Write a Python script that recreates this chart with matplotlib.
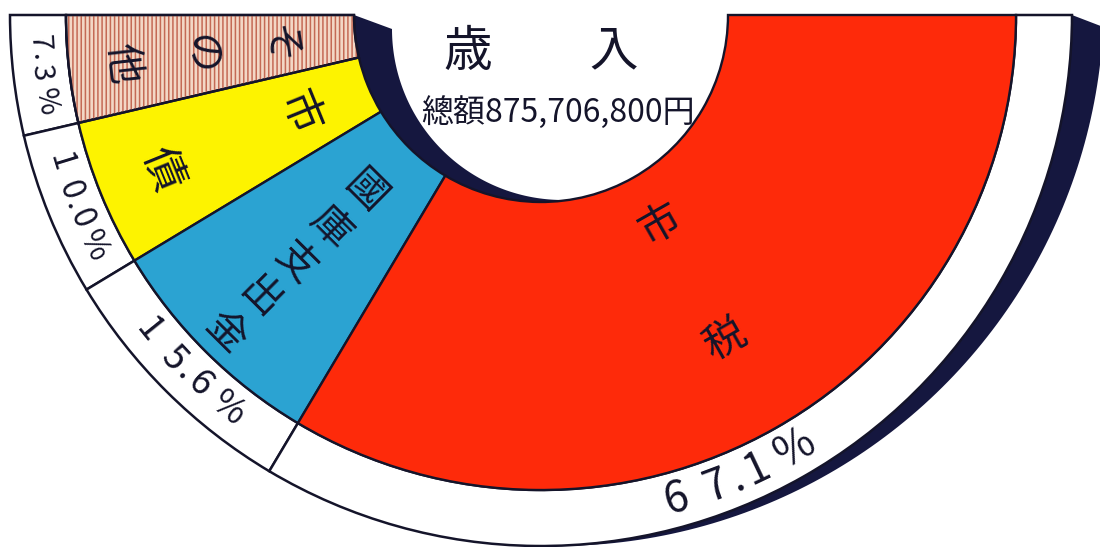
import numpy as np
import matplotlib
matplotlib.use('Agg')
import matplotlib.pyplot as plt
from matplotlib.patches import Wedge, Polygon

# data
categories = ['その他', '市債', '國庫支出金', '市税']
shares = [7.3, 10.0, 15.6, 67.1]
pct_labels = ['7.3%', '10.0%', '15.6%', '67.1%']
title_text = '歳　　入'
total_text = '總額875,706,800円'

colors = ['#f3d8c6', '#fdf300', '#2ba3d2', '#fe2a0a']
stripe_color = '#c46a55'
shadow_color = '#15173f'
ink = '#14142a'

# geometry in image pixels (y grows downwards)
CX, CY = 541, 15
R_IN, R_COL, R_OUT = 187, 475, 531

plt.rcParams['font.family'] = ['Noto Sans CJK JP', 'DejaVu Sans']
plt.rcParams['hatch.linewidth'] = 1.1

fig = plt.figure(figsize=(11, 5.47), dpi=100)
ax = fig.add_axes([0, 0, 1, 1])


def arc(cx, cy, r, a0, a1, n=200):
    t = np.radians(np.linspace(a0, a1, n))
    return np.column_stack([cx + r * np.cos(t), cy + r * np.sin(t)])


# dark shadow behind the half ring
so_cx, so_cy, so_r = CX + 16, CY - 16, R_OUT + 16
si_cx, si_cy, si_r = CX + 22, CY + 14, R_IN - 16
a_start = np.degrees(np.arcsin((CY + 12 - so_cy) / so_r))
a_end = 180 - np.degrees(np.arcsin((CY - so_cy) / so_r))
pts = np.vstack([[[CX + R_OUT, CY]],
                 arc(so_cx, so_cy, so_r, a_start, a_end),
                 [[CX - R_IN, CY]],
                 arc(si_cx, si_cy, si_r, 180, 0),
                 [[CX + R_IN, CY]]])
ax.add_patch(Polygon(pts, closed=True, facecolor=shadow_color,
                     edgecolor='none', zorder=0.5))

vals = shares + [sum(shares)]  # hidden upper half

ring, _ = ax.pie(vals, startangle=180, counterclock=False, center=(CX, CY),
                 radius=R_OUT, colors=['white'] * len(vals),
                 wedgeprops=dict(width=R_OUT - R_COL, edgecolor=ink, linewidth=1.8))
ring[-1].set_visible(False)

wedges, _ = ax.pie(vals, startangle=180, counterclock=False, center=(CX, CY),
                   radius=R_COL, colors=colors + ['white'],
                   wedgeprops=dict(width=R_COL - R_IN, edgecolor=ink, linewidth=1.7))
wedges[-1].set_visible(False)
for w in ring + wedges:
    w.set_zorder(2)

# striped fill for "その他"
w0 = wedges[0]
ax.add_patch(Wedge(w0.center, w0.r, w0.theta1, w0.theta2, width=w0.width,
                   facecolor='none', edgecolor=stripe_color, linewidth=0,
                   hatch='||||', zorder=2.5))
ax.add_patch(Wedge(w0.center, w0.r, w0.theta1, w0.theta2, width=w0.width,
                   facecolor='none', edgecolor=ink, linewidth=1.7, zorder=2.6))

cum = np.cumsum([0] + shares) / sum(shares) * 180
starts = 180 - cum[:-1]
ends = 180 - cum[1:]
mids = (starts + ends) / 2

# category names, one character after another along the radius
name_r = [(265, 422), (262, 410), (250, 448), (242, 374)]
name_fs = [29, 31, 29, 30]
for name, th, (r0, r1), fs in zip(categories, mids, name_r, name_fs):
    chars = list(name)
    for ch, r in zip(chars, np.linspace(r0, r1, len(chars))):
        x = CX + r * np.cos(np.radians(th))
        y = CY + r * np.sin(np.radians(th))
        ax.text(x, y, ch, fontsize=fs, color=ink, rotation=90 - th,
                rotation_mode='anchor', ha='center', va='center', zorder=5)

# percentages in the outer ring, spaced along the arc
pct_frac = [0.5, 0.5, 0.5, 0.445]
pct_fs = [21, 23, 26, 31]
pct_step = [30, 30, 37, 43]
r_pct = (R_COL + R_OUT) / 2
for lab, s0, e0, frac, fs, step in zip(pct_labels, starts, ends, pct_frac, pct_fs, pct_step):
    thc = s0 + (e0 - s0) * frac
    chars = list(lab)
    pos = [0.0]
    for i in range(1, len(chars)):
        f = 0.5 if '.' in (chars[i], chars[i - 1]) else 1.0
        pos.append(pos[-1] + step * f)
    pos = np.array(pos) - (pos[0] + pos[-1]) / 2
    for ch, s in zip(chars, pos):
        th = thc - np.degrees(s / r_pct)
        x = CX + r_pct * np.cos(np.radians(th))
        y = CY + r_pct * np.sin(np.radians(th))
        ax.text(x, y, ch, fontsize=fs, color=ink, rotation=90 - th,
                rotation_mode='anchor', ha='center', va='center', zorder=5)

ax.text(CX, 52, title_text, fontsize=35, color=ink, ha='center', va='center', zorder=5)
ax.text(CX + 17, 113, total_text, fontsize=23, color=ink, ha='center', va='center', zorder=5)

ax.set_xlim(0, 1100)
ax.set_ylim(547, 0)
ax.set_aspect('equal')
ax.axis('off')

fig.savefig('out.png', dpi=100, facecolor='white')
